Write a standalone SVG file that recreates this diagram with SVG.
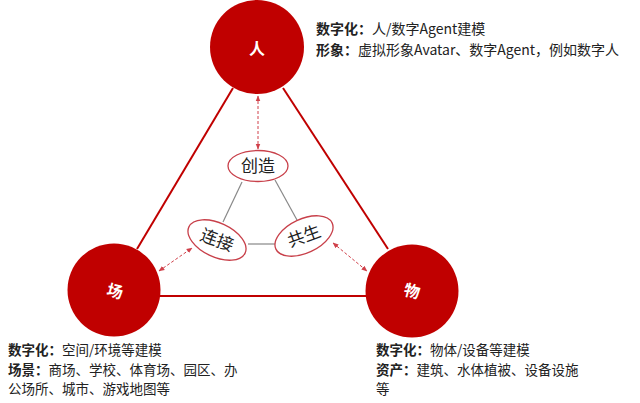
<svg xmlns="http://www.w3.org/2000/svg" width="640" height="403" viewBox="0 0 640 403">
<style>
.big{fill:#c00000}
.lbl{font-family:"Noto Sans CJK SC","Noto Sans",sans-serif;font-size:16px;font-weight:bold;fill:#fff;text-anchor:middle}
.ell{fill:#fff;stroke:#c8404a;stroke-width:1.3}
.etx{font-family:"Noto Sans CJK SC","Noto Sans",sans-serif;font-size:17px;fill:#222;text-anchor:middle}
.tri{stroke:#c00000;stroke-width:2;fill:none}
.gry{stroke:#888;stroke-width:1.2;fill:none}
.dsh{stroke:#d0404a;stroke-width:1;stroke-dasharray:3,2;fill:none;marker-start:url(#ah);marker-end:url(#ah)}
.txt{font-family:"Noto Sans CJK SC","Noto Sans",sans-serif;font-size:14px;fill:#222}
.sm{font-size:13.5px}
.b{font-weight:bold}
</style>
<defs>
<marker id="ah" viewBox="0 0 10 10" refX="9" refY="5" markerWidth="6" markerHeight="6" orient="auto-start-reverse" markerUnits="userSpaceOnUse">
<path d="M0,1 L10,5 L0,9 z" fill="#d0404a"/>
</marker>
</defs>
<g id="connectors">
<line class="tri" x1="233" y1="88" x2="137" y2="249"/>
<line class="tri" x1="283" y1="88" x2="388" y2="249"/>
<line class="tri" x1="160" y1="296" x2="366" y2="296"/>
<line class="gry" x1="242" y1="182" x2="223" y2="222"/>
<line class="gry" x1="275" y1="180" x2="297" y2="220"/>
<line class="gry" x1="248" y1="244" x2="277" y2="244"/>
<line class="dsh" x1="258" y1="96" x2="258" y2="149"/>
<line class="dsh" x1="159" y1="271" x2="192" y2="248"/>
<line class="dsh" x1="333" y1="243" x2="367" y2="271"/>
</g>
<g id="ren">
<circle class="big" cx="257" cy="47" r="47"/>
<text class="lbl" x="257" y="54">人</text>
</g>
<g id="chang">
<circle class="big" cx="114" cy="290" r="46.5"/>
<text class="lbl" x="115" y="297" transform="rotate(15 115 291)">场</text>
</g>
<g id="wu">
<circle class="big" cx="412" cy="291" r="46.5"/>
<text class="lbl" x="412" y="297" transform="rotate(15 412 291)">物</text>
</g>
<g id="chuangzao">
<ellipse class="ell" cx="258" cy="166" rx="30" ry="15.5"/>
<text class="etx" x="258" y="172">创造</text>
</g>
<g id="lianjie">
<ellipse class="ell" cx="217" cy="240" rx="31" ry="17" transform="rotate(25 217 240)"/>
<text class="etx" x="217" y="246" transform="rotate(20 217 240)">连接</text>
</g>
<g id="gongsheng">
<ellipse class="ell" cx="304" cy="236" rx="31" ry="17" transform="rotate(-25 304 236)"/>
<text class="etx" x="304" y="242" transform="rotate(-20 304 236)">共生</text>
</g>
<g id="text-ren">
<text class="txt" x="316" y="34"><tspan class="b">数字化：</tspan>人/数字Agent建模</text>
<text class="txt" x="316" y="55"><tspan class="b">形象：</tspan>虚拟形象Avatar、数字Agent，例如数字人</text>
</g>
<g id="text-chang">
<text class="txt sm" x="8" y="355"><tspan class="b">数字化：</tspan>空间/环境等建模</text>
<text class="txt sm" x="8" y="374.6"><tspan class="b">场景：</tspan>商场、学校、体育场、园区、办</text>
<text class="txt sm" x="8" y="394.2">公场所、城市、游戏地图等</text>
</g>
<g id="text-wu">
<text class="txt sm" x="376" y="355"><tspan class="b">数字化：</tspan>物体/设备等建模</text>
<text class="txt sm" x="376" y="374.6"><tspan class="b">资产：</tspan>建筑、水体植被、设备设施</text>
<text class="txt sm" x="376" y="394.2">等</text>
</g>
</svg>
